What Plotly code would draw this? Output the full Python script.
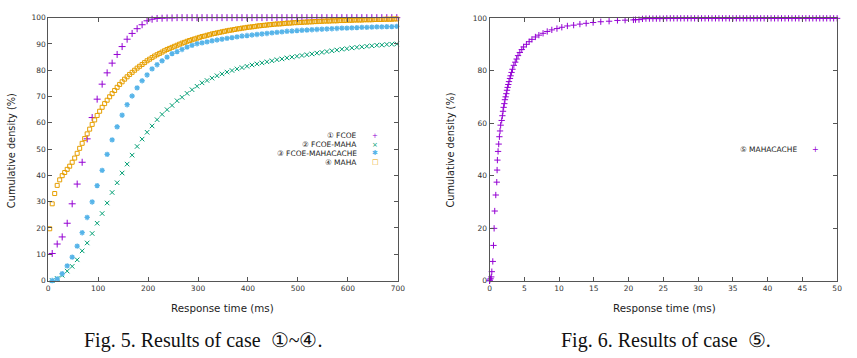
import plotly.graph_objects as go

# ---------------- data: Fig. 5 (cases 1-4) ----------------
x10 = [8, 18, 28, 38, 48, 58, 68, 78, 88, 98, 108, 118, 128, 138, 148, 158, 168, 178, 188, 198,
       208, 218, 228, 238, 248, 258, 268, 278, 288, 298, 308, 318, 328, 338, 348, 358, 368, 378, 388, 398,
       408, 418, 428, 438, 448, 458, 468, 478, 488, 498, 508, 518, 528, 538, 548, 558, 568, 578, 588, 598,
       608, 618, 628, 638, 648, 658, 668, 678, 688, 698]

fcoe = [10.3, 13.9, 16.6, 21.8, 29.2, 36.7, 45.0, 53.9, 62.0, 69.0, 74.7, 79.0, 82.7, 86.0, 89.0, 91.8, 94.0, 95.8, 97.3, 98.8,
        99.4, 99.7, 99.8, 99.9, 99.9, 100, 100, 100, 100, 100, 100, 100, 100, 100, 100, 100, 100, 100, 100, 100,
        100, 100, 100, 100, 100, 100, 100, 100, 100, 100, 100, 100, 100, 100, 100, 100, 100, 100, 100, 100,
        100, 100, 100, 100, 100, 100, 100, 100, 100, 100]

fcoe_maha = [0.0, 0.8, 2.0, 3.6, 5.4, 7.9, 11.3, 14.3, 17.9, 21.8, 25.5, 29.5, 33.5, 37.2, 40.9, 44.3, 47.7, 51.0, 53.8, 56.4,
             58.8, 61.2, 63.2, 65.0, 66.6, 68.4, 69.7, 71.2, 72.6, 73.9, 75.2, 76.1, 77.0, 77.9, 78.6, 79.3, 79.9, 80.5, 81.0, 81.5,
             82.0, 82.4, 82.8, 83.2, 83.6, 84.0, 84.3, 84.7, 85.0, 85.3, 85.6, 85.9, 86.2, 86.5, 86.8, 87.1, 87.4, 87.7, 88.0, 88.2,
             88.5, 88.7, 88.9, 89.1, 89.3, 89.5, 89.6, 89.8, 89.9, 90.0]

fcoe_mahacache = [0.0, 0.6, 2.6, 5.6, 8.9, 13.1, 18.2, 24.0, 29.9, 36.1, 41.9, 48.0, 53.5, 58.5, 62.9, 66.9, 70.2, 73.3, 76.0, 78.2,
                  80.5, 82.1, 83.6, 85.0, 86.3, 87.1, 87.9, 88.8, 89.5, 90.1, 90.4, 90.8, 91.2, 91.5, 91.8, 92.1, 92.4, 92.7, 93.0, 93.2,
                  93.4, 93.6, 93.8, 94.0, 94.2, 94.4, 94.6, 94.8, 94.9, 95.1, 95.2, 95.3, 95.4, 95.5, 95.6, 95.7, 95.8, 95.9, 96.0, 96.0,
                  96.1, 96.2, 96.3, 96.3, 96.4, 96.5, 96.5, 96.6, 96.6, 96.7]

x5 = [3, 8, 13, 18, 23, 28, 33, 38, 43, 48, 53, 58, 63, 68, 73, 78, 83, 88, 93, 98,
      103, 108, 113, 118, 123, 128, 133, 138, 143, 148, 153, 158, 163, 168, 173, 178, 183, 188, 193, 198,
      203, 208, 213, 218, 223, 228, 233, 238, 243, 248, 253, 258, 263, 268, 273, 278, 283, 288, 293, 298,
      303, 308, 313, 318, 323, 328, 333, 338, 343, 348, 353, 358, 363, 368, 373, 378, 383, 388, 393, 398,
      403, 408, 413, 418, 423, 428, 433, 438, 443, 448, 453, 458, 463, 468, 473, 478, 483, 488, 493, 498,
      503, 508, 513, 518, 523, 528, 533, 538, 543, 548, 553, 558, 563, 568, 573, 578, 583, 588, 593, 598,
      603, 608, 613, 618, 623, 628, 633, 638, 643, 648, 653, 658, 663, 668, 673, 678, 683, 688, 693, 698]

maha = [19.7, 29.2, 33.1, 36.2, 38.3, 39.9, 41.1, 42.3, 43.5, 45.0, 46.6, 48.4, 50.3, 52.2, 54.0, 55.8, 57.6, 59.4, 61.1, 62.8,
        64.4, 65.9, 67.3, 68.6, 69.9, 71.1, 72.3, 73.5, 74.6, 75.6, 76.6, 77.5, 78.4, 79.2, 80.0, 80.8, 81.5, 82.2, 82.9, 83.6,
        84.2, 84.8, 85.4, 85.9, 86.4, 86.9, 87.4, 87.9, 88.3, 88.7, 89.1, 89.5, 89.9, 90.3, 90.6, 91.0, 91.3, 91.6, 91.9, 92.2,
        92.5, 92.8, 93.0, 93.3, 93.5, 93.8, 94.0, 94.2, 94.4, 94.6, 94.8, 95.0, 95.2, 95.3, 95.5, 95.7, 95.8, 96.0, 96.1, 96.3,
        96.4, 96.5, 96.6, 96.8, 96.9, 97.0, 97.1, 97.2, 97.3, 97.4, 97.5, 97.6, 97.6, 97.7, 97.8, 97.9, 97.9, 98.0, 98.1, 98.1,
        98.2, 98.2, 98.3, 98.3, 98.4, 98.4, 98.5, 98.5, 98.6, 98.6, 98.7, 98.7, 98.7, 98.8, 98.8, 98.8, 98.9, 98.9, 98.9, 99.0,
        99.0, 99.0, 99.1, 99.1, 99.1, 99.1, 99.2, 99.2, 99.2, 99.2, 99.3, 99.3, 99.3, 99.3, 99.4, 99.4, 99.4, 99.4, 99.5, 99.5]

# ---------------- data: Fig. 6 (case 5) ----------------
mc_x = [0.0, 0.05, 0.15, 0.25, 0.33, 0.47, 0.57, 0.66, 0.75, 0.9, 1.04, 1.09, 1.13, 1.23, 1.32, 1.42, 1.51, 1.6, 1.75, 1.85,
        1.94, 2.03, 2.13, 2.22, 2.32, 2.42, 2.51, 2.6, 2.7, 2.8, 2.94, 3.03, 3.17, 3.3, 3.5, 3.7, 3.9, 4.1, 4.36, 4.64,
        4.9, 5.3, 5.7, 6.1, 6.6, 7.1, 7.7, 8.3, 8.96, 9.7, 10.4, 11.2, 12.1, 13.0, 13.9, 14.9, 16.0, 17.2, 18.4, 19.5,
        20.7, 21.0, 21.5, 22.0, 22.5, 23.0, 23.5, 24.0, 24.5, 25.0, 25.5, 26.0, 26.5, 27.0, 27.5, 28.0, 28.5, 29.0, 29.5, 30.0,
        30.5, 31.0, 31.5, 32.0, 32.5, 33.0, 33.5, 34.0, 34.5, 35.0, 35.5, 36.0, 36.5, 37.0, 37.5, 38.0, 38.5, 39.0, 39.5, 40.0,
        40.5, 41.0, 41.5, 42.0, 42.5, 43.0, 43.5, 44.0, 44.5, 45.0, 45.5, 46.0, 46.5, 47.0, 47.5, 48.0, 48.5, 49.0, 49.5, 50.0]
mc_y = [0.0, 0.3, 0.8, 1.5, 3.5, 7.4, 13.5, 20.0, 26.6, 32.7, 37.6, 42.2, 46.0, 49.3, 52.1, 54.9, 57.1, 59.3, 61.1, 62.9,
        64.6, 66.1, 67.5, 69.0, 70.1, 71.3, 72.6, 73.7, 74.8, 75.9, 77.1, 78.1, 79.4, 80.6, 82.1, 83.3, 84.5, 85.8, 87.0, 88.1,
        89.1, 90.1, 91.1, 92.0, 92.9, 93.6, 94.3, 95.0, 95.6, 96.1, 96.6, 97.1, 97.4, 97.8, 98.1, 98.4, 98.7, 98.9, 99.2, 99.3,
        99.4, 99.5, 99.5, 99.8, 99.9, 99.9, 99.9, 99.9, 99.9, 99.9, 100, 100, 100, 100, 100, 100, 100, 100, 100, 100,
        100, 100, 100, 100, 100, 100, 100, 100, 100, 100, 100, 100, 100, 100, 100, 100, 100, 100, 100, 100,
        100, 100, 100, 100, 100, 100, 100, 100, 100, 100, 100, 100, 100, 100, 100, 100, 100, 100, 100, 100]

names5 = ["① FCOE", "② FCOE-MAHA", "③ FCOE-MAHACACHE", "④ MAHA"]
names6 = ["⑤ MAHACACHE"]
x_ticks5 = [0, 100, 200, 300, 400, 500, 600, 700]
y_ticks5 = [0, 10, 20, 30, 40, 50, 60, 70, 80, 90, 100]
x_ticks6 = [0, 5, 10, 15, 20, 25, 30, 35, 40, 45, 50]
y_ticks6 = [0, 20, 40, 60, 80, 100]

PURPLE = "#9400d3"
GREEN = "#009e73"
BLUE = "#56b4e9"
ORANGE = "#e69f00"

W, H = 857, 358


def px(x):
    return x / W


def py(y):
    return (H - y) / H


fig = go.Figure()

def mk(symbol, color, size, width=1.0):
    return dict(symbol=symbol, size=size, color=color, line=dict(color=color, width=width))

fig.add_trace(go.Scatter(x=x10, y=fcoe, mode="markers", name=names5[0], cliponaxis=False,
                         marker=mk("cross-thin", PURPLE, 5), xaxis="x", yaxis="y"))
fig.add_trace(go.Scatter(x=x10, y=fcoe_maha, mode="markers", name=names5[1], cliponaxis=False,
                         marker=mk("x-thin", GREEN, 4.5), xaxis="x", yaxis="y"))
fig.add_trace(go.Scatter(x=x10, y=fcoe_mahacache, mode="markers", name=names5[2], cliponaxis=False,
                         marker=mk("asterisk", BLUE, 4.5, 1.3), xaxis="x", yaxis="y"))
fig.add_trace(go.Scatter(x=x5, y=maha, mode="markers", name=names5[3], cliponaxis=False,
                         marker=dict(symbol="square-open", size=4, color=ORANGE, line=dict(color=ORANGE, width=1)),
                         xaxis="x", yaxis="y"))
fig.add_trace(go.Scatter(x=mc_x, y=mc_y, mode="markers", name=names6[0], cliponaxis=False,
                         marker=mk("cross-thin", PURPLE, 4.5), xaxis="x2", yaxis="y2"))

tickfont = dict(family="DejaVu Sans", size=7.5, color="#333333")
axcommon = dict(showline=True, linecolor="#555555", linewidth=1, mirror="allticks",
                ticks="inside", ticklen=4, tickcolor="#555555", tickwidth=1,
                showgrid=False, zeroline=False, tickfont=tickfont, fixedrange=True)

fig.update_layout(
    width=W, height=H,
    margin=dict(l=0, r=0, t=0, b=0),
    paper_bgcolor="white", plot_bgcolor="white",
    showlegend=False,
    xaxis=dict(domain=[px(46.7), px(400)], range=[0, 700], tickvals=x_ticks5, anchor="y", **axcommon),
    yaxis=dict(domain=[py(283.7), py(14)], range=[0, 100], tickvals=y_ticks5, anchor="x", **axcommon),
    xaxis2=dict(domain=[px(492.7), px(844)], range=[0, 50], tickvals=x_ticks6, anchor="y2", **axcommon),
    yaxis2=dict(domain=[py(284), py(14.7)], range=[0, 100], tickvals=y_ticks6, anchor="x2", **axcommon),
)

ann = []
title_font = dict(family="DejaVu Sans", size=9.8, color="#222222")
xt_font = dict(family="DejaVu Sans", size=10.3, color="#222222")
for xc in (9, 453):
    ann.append(dict(text="Cumulative density (%)", x=px(xc), y=py(150), xref="paper", yref="paper",
                    textangle=-90, showarrow=False, font=title_font, xanchor="center", yanchor="middle"))
for xc in (223, 670):
    ann.append(dict(text="Response time (ms)", x=px(xc), y=py(312), xref="paper", yref="paper",
                    showarrow=False, font=xt_font, xanchor="center", yanchor="middle"))

cap_font = dict(family="Liberation Serif", size=20, color="#111111")
ann.append(dict(text="Fig. 5. Results of case  ①~④.", x=px(203), y=0, xref="paper", yref="paper",
                showarrow=False, font=cap_font, xanchor="center", yanchor="bottom", borderpad=0))
ann.append(dict(text="Fig. 6. Results of case  ⑤.", x=px(671), y=0, xref="paper", yref="paper",
                showarrow=False, font=cap_font, xanchor="center", yanchor="bottom", borderpad=0))

leg_font = dict(family="DejaVu Sans", size=7.5, color="#222222")
leg_y = [135, 144.3, 153, 162.3]
glyphs = [("+", PURPLE), ("×", GREEN), ("✱", BLUE), ("□", ORANGE)]
for name, yy, (g, c) in zip(names5, leg_y, glyphs):
    ann.append(dict(text=name, x=px(361), y=py(yy), xref="paper", yref="paper", showarrow=False,
                    font=leg_font, xanchor="right", yanchor="middle"))
    ann.append(dict(text=g, x=px(377), y=py(yy), xref="paper", yref="paper", showarrow=False,
                    font=dict(family="DejaVu Sans", size=7, color=c), xanchor="center", yanchor="middle"))
ann.append(dict(text=names6[0], x=px(805), y=py(149), xref="paper", yref="paper", showarrow=False,
                font=leg_font, xanchor="right", yanchor="middle"))
ann.append(dict(text="+", x=px(822), y=py(149), xref="paper", yref="paper", showarrow=False,
                font=dict(family="DejaVu Sans", size=8, color=PURPLE), xanchor="center", yanchor="middle"))

fig.update_layout(annotations=ann)

for a, b in [(x10, fcoe), (x10, fcoe_maha), (x10, fcoe_mahacache), (x5, maha), (mc_x, mc_y)]:
    assert len(a) == len(b), (len(a), len(b))

fig.write_html("out.html")
